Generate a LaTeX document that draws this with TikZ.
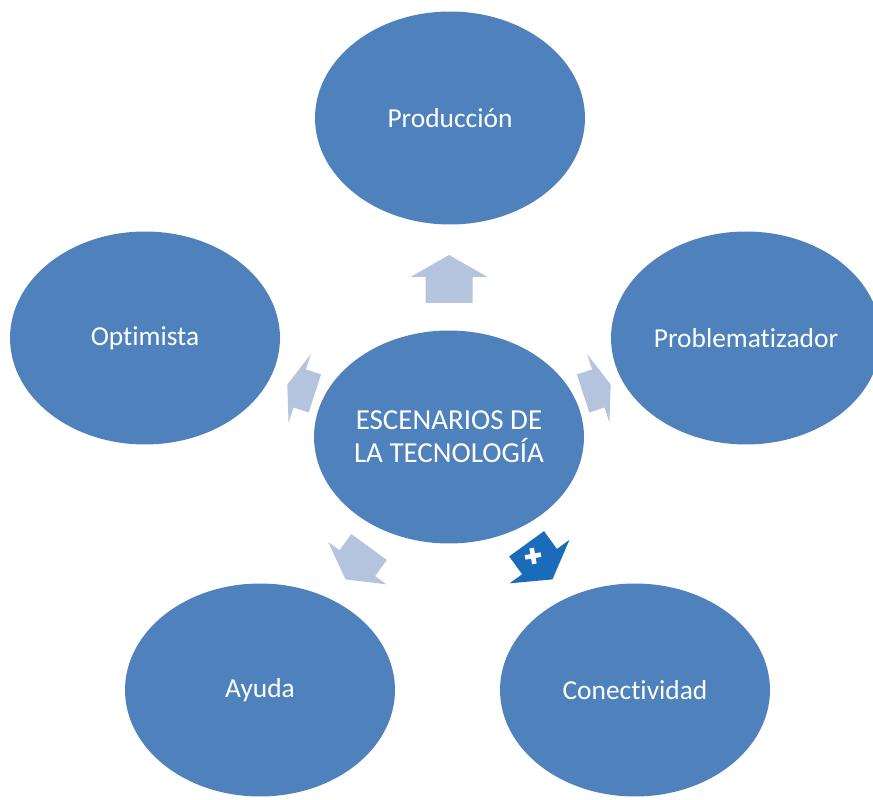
\documentclass[tikz,border=0pt]{standalone}
\usepackage{fontspec}
\setmainfont[Ligatures=NoCommon]{Carlito}
\usetikzlibrary{shapes.geometric}

\definecolor{my_blue}{HTML}{4F81BD}
\definecolor{my_light}{HTML}{B4C4DE}
\definecolor{my_dark}{HTML}{1A6BBA}

\tikzset{scenario/.style={ellipse, fill=my_blue, draw=none,
                          minimum width=5.4cm, minimum height=4.26cm,
                          inner sep=0pt, text=white, align=center,
                          font=\fontsize{15.6}{18.7}\selectfont}}

% radial arrow: colour, angle, start, head base, tip, shaft half width, head half width
\newcommand{\radarrow}[7]{%
  \fill[#1, shift={(esc.center)}, rotate=#2]
    (#3,-#6) -- (#4,-#6) -- (#4,-#7) -- (#5,0) -- (#4,#7) -- (#4,#6) -- (#3,#6) -- cycle;}

\begin{document}
\begin{tikzpicture}[x=0.02cm, y=0.02cm]

\useasboundingbox (0,0) rectangle (873,799);
\clip (0,0) rectangle (873,799);

% center
\node[scenario, font=\fontsize{16.5}{18.7}\selectfont] (esc) at (449,362) {ESCENARIOS DE\\LA TECNOLOGÍA};

% outer ring
\node[scenario] (prod) at (450,681) {Producción};
\node[scenario] (prob) at (746,461) {Problematizador};
\node[scenario] (opt)  at (145,461) {Optimista};
\node[scenario] (ayu)  at (260,109) {Ayuda};
\node[scenario] (con)  at (635,109) {Conectividad};

% arrows
\radarrow{my_light}{90}{134}{160}{182}{23.5}{38.5}
\radarrow{my_light}{18}{141}{157}{170}{20}{36}
\radarrow{my_light}{162}{141}{157}{170}{20}{36}
\radarrow{my_light}{234}{136}{156}{176}{22}{36}
\radarrow{my_dark}{306}{132}{154}{176}{21.5}{37}

% plus
\begin{scope}[shift={(533,243)}, rotate=10]
  \fill[white] (-8,-2.3) rectangle (8,2.3);
  \fill[white] (-2.3,-8) rectangle (2.3,8);
\end{scope}

\end{tikzpicture}
\end{document}
